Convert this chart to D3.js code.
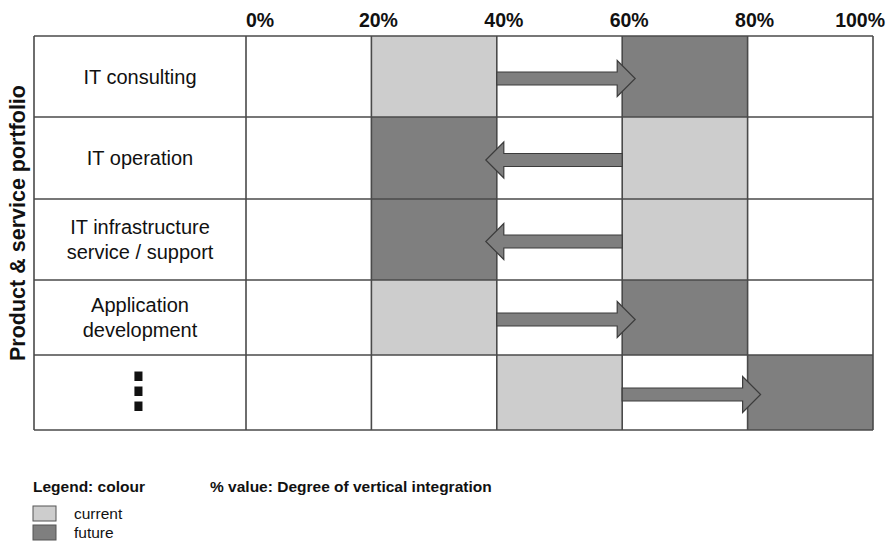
<!DOCTYPE html>
<html>
<head>
<meta charset="utf-8">
<script src="https://cdn.jsdelivr.net/npm/d3@7/dist/d3.min.js"></script>
<style>
  body { margin: 0; background: #fff; }
  svg text { font-family: "Liberation Sans", Arial, sans-serif; fill: #111; }
</style>
</head>
<body>
<svg id="chart" width="894" height="543"></svg>
<script>
// ---- data ----
const categories = [
  ["IT consulting"],
  ["IT operation"],
  ["IT infrastructure", "service / support"],
  ["Application", "development"],
  ["⋮"]
];
const currentFrom = [20, 60, 60, 20, 40];
const currentTo   = [40, 80, 80, 40, 60];
const futureFrom  = [60, 20, 20, 60, 80];
const futureTo    = [80, 40, 40, 80, 100];
const tickValues  = [0, 20, 40, 60, 80, 100];
const tickLabels  = ["0%", "20%", "40%", "60%", "80%", "100%"];
const legendLabels = ["current", "future"];
const yTitle = "Product & service portfolio";
const legendTitle = "Legend: colour";
const note = "% value: Degree of vertical integration";

// ---- layout ----
const colors = { current: "#cdcdcd", future: "#7f7f7f" };
const gridStroke = "#4a4a4a";
const svg = d3.select("#chart");

const x = d3.scaleLinear().domain([0, 100]).range([246, 873]);
const labelLeft = 34;
// row boundaries (piecewise layout of the original table)
const yRow = d3.scaleLinear().domain(d3.range(6)).range([36, 117, 199, 280, 355, 430]);
const rowCenter = i => (yRow(i) + yRow(i + 1)) / 2;

const rows = categories.map((c, i) => ({
  label: c, i,
  cur: [currentFrom[i], currentTo[i]],
  fut: [futureFrom[i], futureTo[i]]
}));

// cells
const g = svg.append("g");
rows.forEach(r => {
  g.append("rect")
    .attr("x", x(r.cur[0])).attr("y", yRow(r.i))
    .attr("width", x(r.cur[1]) - x(r.cur[0]))
    .attr("height", yRow(r.i + 1) - yRow(r.i))
    .attr("fill", colors.current);
  g.append("rect")
    .attr("x", x(r.fut[0])).attr("y", yRow(r.i))
    .attr("width", x(r.fut[1]) - x(r.fut[0]))
    .attr("height", yRow(r.i + 1) - yRow(r.i))
    .attr("fill", colors.future);
});

// grid lines
const grid = svg.append("g").attr("stroke", gridStroke).attr("stroke-width", 1.6).attr("fill", "none");
d3.range(6).forEach(i => {
  grid.append("line").attr("x1", labelLeft).attr("x2", x(100)).attr("y1", yRow(i)).attr("y2", yRow(i));
});
grid.append("line").attr("x1", labelLeft).attr("x2", labelLeft).attr("y1", yRow(0)).attr("y2", yRow(5));
tickValues.forEach(v => {
  grid.append("line").attr("x1", x(v)).attr("x2", x(v)).attr("y1", yRow(0)).attr("y2", yRow(5));
});

// tick labels
svg.append("g").selectAll("text").data(tickValues).join("text")
  .attr("x", (v, i) => i === 0 ? x(v) : (i === tickValues.length - 1 ? x(v) + 12 : x(v) + 7))
  .attr("y", 27)
  .attr("text-anchor", (v, i) => i === 0 ? "start" : (i === tickValues.length - 1 ? "end" : "middle"))
  .attr("font-size", 19.5).attr("font-weight", "bold")
  .text((v, i) => tickLabels[i]);

// row labels
const labelX = (labelLeft + x(0)) / 2;
rows.forEach(r => {
  const n = r.label.length;
  const isDots = r.label[0] === "⋮";
  const cy = rowCenter(r.i);
  const t = svg.append("text")
    .attr("text-anchor", "middle")
    .attr("font-size", isDots ? 34 : 20)
    .attr("font-weight", isDots ? "bold" : "normal");
  if (isDots) {
    t.style("font-family", "'DejaVu Sans', sans-serif")
     .attr("transform", `translate(${labelX - 1.5}, ${cy}) scale(1.35, 1.5) translate(${-labelX}, ${-cy})`);
  }
  r.label.forEach((line, k) => {
    t.append("tspan")
      .attr("x", labelX)
      .attr("y", cy + (isDots ? 11 : 7) + (k - (n - 1) / 2) * 24.5)
      .text(line);
  });
});

// arrows
const shaftH = 6.5, headH = 18, headL = 18;
function arrowPath(x0, x1, cy) {
  const dir = Math.sign(x1 - x0);
  const xb = x1 - dir * headL;
  return [
    [x0, cy - shaftH], [xb, cy - shaftH], [xb, cy - headH], [x1, cy],
    [xb, cy + headH], [xb, cy + shaftH], [x0, cy + shaftH]
  ];
}
svg.append("g").selectAll("path").data(rows).join("path")
  .attr("d", r => {
    const fwd = r.fut[0] > r.cur[0];
    const x0 = fwd ? x(r.cur[1]) : x(r.cur[0]);
    const x1 = fwd ? x(r.fut[0]) + 13 : x(r.fut[1]) - 11;
    return d3.line()(arrowPath(x0, x1, rowCenter(r.i) + 2)) + "Z";
  })
  .attr("fill", colors.future)
  .attr("stroke", "#3c3c3c")
  .attr("stroke-width", 1.2)
  .attr("stroke-linejoin", "miter");

// y title
svg.append("text")
  .attr("transform", `translate(25, 223) rotate(-90)`)
  .attr("text-anchor", "middle")
  .attr("font-size", 21.5).attr("font-weight", "bold")
  .text(yTitle);

// legend
svg.append("text").attr("x", 33).attr("y", 492)
  .attr("font-size", 15.5).attr("font-weight", "bold").text(legendTitle);
svg.append("text").attr("x", 210).attr("y", 492)
  .attr("font-size", 15.5).attr("font-weight", "bold").text(note);
const lg = svg.append("g").selectAll("g").data(legendLabels).join("g")
  .attr("transform", (d, i) => `translate(33, ${506 + i * 19})`);
lg.append("rect").attr("width", 23).attr("height", 15)
  .attr("fill", d => colors[d]).attr("stroke", "#555").attr("stroke-width", 1);
lg.append("text").attr("x", 41).attr("y", 13).attr("font-size", 15.5).text(d => d);
</script>
</body>
</html>
